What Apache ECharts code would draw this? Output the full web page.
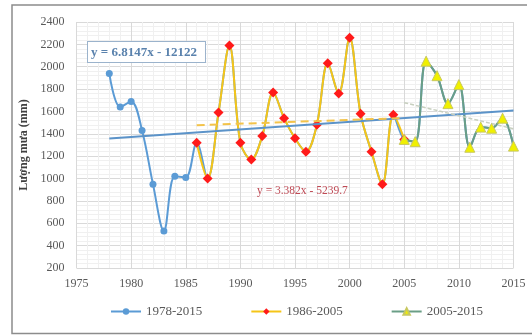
<!DOCTYPE html>
<html>
<head>
<meta charset="utf-8">
<script src="https://cdn.jsdelivr.net/npm/echarts@6/dist/echarts.min.js"></script>
<style>
  html, body { margin: 0; padding: 0; background: #fff; }
  #chart { width: 532px; height: 335px; }
</style>
</head>
<body>
<div id="chart"></div>
<script>
// Annual rainfall (mm), 1978-2015
const years = [1978,1979,1980,1981,1982,1983,1984,1985,1986,1987,1988,1989,1990,1991,1992,1993,1994,1995,1996,1997,1998,1999,2000,2001,2002,2003,2004,2005,2006,2007,2008,2009,2010,2011,2012,2013,2014,2015];
const rainfall = [1940,1640,1690,1430,950,530,1020,1010,1320,1000,1590,2190,1320,1170,1380,1770,1540,1360,1240,1480,2030,1760,2260,1580,1240,950,1570,1350,1330,2050,1920,1670,1840,1280,1460,1450,1540,1290];

// Sub-period ranges
const periodAll = [1978, 2015];
const periodMid = [1986, 2005];
const periodLate = [2005, 2015];

// Trend equations printed on the chart
const trendAll = { a: 6.8147, b: -12122, text: 'y = 6.8147x - 12122' };
const trendMid = { a: 3.382, b: -5239.7, text: 'y = 3.382x - 5239.7' };

const xTicks = { min: 1975, max: 2015, step: 5 };
const yTicks = { min: 200, max: 2400, step: 200 };

const seriesNames = ['1978-2015', '1986-2005', '2005-2015'];
const yAxisTitle = 'Lượng mưa (mm)';

function slice(range) {
  const out = [];
  years.forEach((y, i) => { if (y >= range[0] && y <= range[1]) out.push([y, rainfall[i]]); });
  return out;
}
function lineFrom(eq, range) {
  return range.map(x => [x, eq.a * x + eq.b]);
}
function regression(pts) {
  const n = pts.length;
  const mx = pts.reduce((s, p) => s + p[0], 0) / n;
  const my = pts.reduce((s, p) => s + p[1], 0) / n;
  let sxy = 0, sxx = 0;
  pts.forEach(p => { sxy += (p[0] - mx) * (p[1] - my); sxx += (p[0] - mx) * (p[0] - mx); });
  const a = sxy / sxx;
  return { a: a, b: my - a * mx };
}

const allPts = slice(periodAll);
const midPts = slice(periodMid);
const latePts = slice(periodLate);
const trendLate = regression(latePts);

// blue circles only where the other periods don't overlay them
const allData = allPts.map(p => p[0] < periodMid[0]
  ? { value: p }
  : { value: p, symbol: 'none' });

const serif = '"Liberation Serif", "DejaVu Serif", serif';
const plain = v => String(v);
const chart = echarts.init(document.getElementById('chart'), null, { renderer: 'canvas' });

chart.setOption({
  animation: false,
  grid: { left: 76.5, right: 18.5, top: 22, bottom: 67 },
  xAxis: {
    type: 'value', min: xTicks.min, max: xTicks.max, interval: xTicks.step,
    axisLine: { show: false }, axisTick: { show: false },
    axisLabel: { color: '#595959', fontFamily: serif, fontSize: 12, margin: 10, formatter: plain },
    splitLine: { lineStyle: { color: '#d9d9d9', width: 1 } },
    minorTick: { show: false, splitNumber: 5 },
    minorSplitLine: { show: true, lineStyle: { color: '#f0f0f0', width: 1 } }
  },
  yAxis: {
    type: 'value', min: yTicks.min, max: yTicks.max, interval: yTicks.step,
    name: yAxisTitle, nameLocation: 'middle', nameGap: 42, nameRotate: 90,
    nameTextStyle: { color: '#404040', fontFamily: serif, fontSize: 12, fontWeight: 'bold' },
    axisLine: { show: false }, axisTick: { show: false },
    axisLabel: { color: '#595959', fontFamily: serif, fontSize: 12, margin: 12, formatter: plain },
    splitLine: { lineStyle: { color: '#d9d9d9', width: 1 } },
    minorTick: { show: false, splitNumber: 5 },
    minorSplitLine: { show: true, lineStyle: { color: '#f0f0f0', width: 1 } }
  },
  legend: {
    bottom: 12, left: 105, itemGap: 48, itemWidth: 30, itemHeight: 8,
    textStyle: { color: '#595959', fontFamily: serif, fontSize: 13 },
    data: seriesNames
  },
  graphic: [
    { type: 'polyline', silent: true,
      shape: { points: [[527, 5], [12, 5], [12, 333.5], [532, 333.5]] },
      style: { fill: 'none', stroke: '#8c8c8c', lineWidth: 1.5 } },
    { type: 'text', left: 87, top: 41, z: 100,
      style: { text: trendAll.text, fill: '#5a82ad', font: 'bold 13px ' + serif,
        backgroundColor: '#fff', borderColor: '#9bb3cc', borderWidth: 1, padding: [4, 8, 3, 3] } },
    { type: 'text', left: 257, top: 185, z: 100,
      style: { text: trendMid.text, fill: '#bf4a55', font: '11.5px ' + serif } }
  ],
  series: [
    {
      name: seriesNames[0], type: 'line', smooth: 0.35, data: allData,
      symbol: 'circle', symbolSize: 7, z: 2,
      lineStyle: { color: '#5b9bd5', width: 2 },
      itemStyle: { color: '#5b9bd5' }
    },
    {
      name: seriesNames[1], type: 'line', smooth: 0.35, data: midPts,
      symbol: 'diamond', symbolSize: 10, z: 3,
      lineStyle: { color: '#f5c518', width: 2 },
      itemStyle: { color: '#ff1a1a' }
    },
    {
      name: seriesNames[2], type: 'line', smooth: 0.35, data: latePts,
      symbol: 'triangle', symbolSize: 10, z: 4,
      lineStyle: { color: '#6a9e86', width: 2 },
      itemStyle: { color: '#f0f000', borderColor: '#c8c860', borderWidth: 1 }
    },
    {
      type: 'line', data: lineFrom(trendAll, periodAll), symbol: 'none', z: 5,
      lineStyle: { color: '#5b93c9', width: 2 }, silent: true
    },
    {
      type: 'line', data: lineFrom(trendMid, periodMid), symbol: 'none', z: 5,
      lineStyle: { color: '#f3c34a', width: 2, type: [8, 5] }, silent: true
    },
    {
      type: 'line', data: lineFrom(trendLate, periodLate), symbol: 'none', z: 5,
      lineStyle: { color: '#c7cfbf', width: 1.5, type: [4, 2] }, silent: true
    }
  ]
});
</script>
</body>
</html>
